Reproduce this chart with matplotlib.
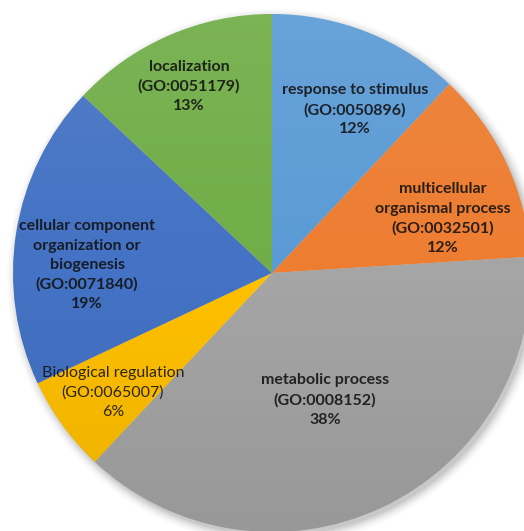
"""GO biological-process pie chart (Excel style)."""
import matplotlib
matplotlib.use("Agg")
import matplotlib.pyplot as plt
import numpy as np
from matplotlib.patches import Circle

labels = [
    "response to stimulus\n(GO:0050896)\n12%",
    "multicellular\norganismal process\n(GO:0032501)\n12%",
    "metabolic process\n(GO:0008152)\n38%",
    "Biological regulation\n(GO:0065007)\n6%",
    "cellular component\norganization or\nbiogenesis\n(GO:0071840)\n19%",
    "localization\n(GO:0051179)\n13%",
]
shares = [12, 12, 38, 6, 19, 13]
colors = ["#5B9BD5", "#ED7D31", "#A5A5A5", "#FFC000", "#4472C4", "#70AD47"]
bold = [True, True, True, False, True, True]
# label centres in data units (radius = 1)
label_xy = [(0.32, 0.63), (0.66, 0.21), (0.205, -0.49), (-0.614, -0.46),
            (-0.714, 0.03), (-0.32, 0.72)]

W, H, DPI = 524, 531, 100
cx, cy, R = 272, 273, 259   # pixel centre (from top) and radius
fig = plt.figure(figsize=(W / DPI, H / DPI), dpi=DPI)
ax = fig.add_axes([0, 0, 1, 1])

# soft shadow under the pie
for i, a in enumerate(np.linspace(0.05, 0.012, 7)):
    ax.add_patch(Circle((0.012, -0.015), 1.0 + 0.006 * i, color="black",
                        alpha=a, lw=0, zorder=0))

wedges, _ = ax.pie(shares, colors=colors, startangle=90, counterclock=False,
                   radius=1.0, wedgeprops=dict(linewidth=0))
for w in wedges:
    w.set_zorder(1)

# subtle vertical gradient (lighter on top, darker at bottom)
grad = np.linspace(1, 0, 256)
rgba = np.zeros((256, 1, 4))
rgba[:, 0, :3] = np.where(grad > 0.5, 1.0, 0.0)[:, None]
rgba[:, 0, 3] = np.abs(grad - 0.5) * 0.16
im = ax.imshow(rgba, extent=(-1, 1, -1, 1), aspect="auto", zorder=2,
               interpolation="bilinear")
im.set_clip_path(Circle((0, 0), 1.0, transform=ax.transData))

for txt, (x, y), b in zip(labels, label_xy, bold):
    ax.text(x, y, txt, ha="center", va="center", fontsize=11.5,
            family=["Lato", "DejaVu Sans"], fontweight="bold" if b else "normal",
            color="#111111", alpha=0.88, linespacing=1.48, zorder=3)

ax.set_aspect("auto")
ax.set_xlim(-cx / R, (W - cx) / R)
ax.set_ylim(-(H - cy) / R, cy / R)
ax.axis("off")
fig.savefig("out.png", dpi=DPI, facecolor="white")
